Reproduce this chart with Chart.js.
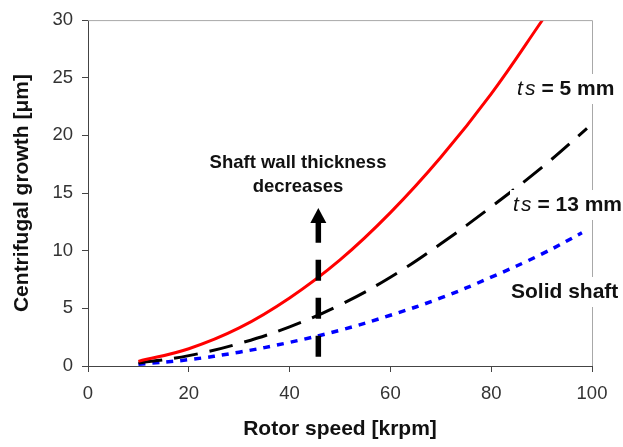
<!DOCTYPE html>
<html>
<head>
<meta charset="utf-8">
<script src="https://cdn.jsdelivr.net/npm/chart.js@4/dist/chart.umd.min.js"></script>
<style>
  html, body { margin: 0; padding: 0; background: #fff; }
  #wrap { width: 623px; height: 447px; position: relative; }
</style>
</head>
<body>
<div id="wrap"><canvas id="c"></canvas></div>
<script>
// ---- data ----
const speedRed   = [10, 20, 30, 40, 50, 60, 70, 80, 90, 91];
const growthTs5  = [0.4, 1.5, 3.3, 5.9, 9.2, 13.3, 18.1, 23.6, 29.9, 30.6];
const speedBlack = [10, 20, 30, 40, 50, 60, 70, 80, 90, 99];
const growthTs13 = [0.25, 0.9, 1.95, 3.4, 5.3, 7.7, 10.6, 13.8, 17.2, 20.6];
const speedBlue  = [10, 20, 30, 40, 50, 60, 70, 80, 90, 98];
const growthSolid= [0.15, 0.55, 1.2, 2.05, 3.1, 4.4, 5.9, 7.7, 9.7, 11.55];
const xTicks = [0, 20, 40, 60, 80, 100];
const yTicks = [0, 5, 10, 15, 20, 25, 30];
const arrowSpeed = 45.7;
const arrowFrom = 0.8;
const arrowTo = 13.7;

const FONT = "'Liberation Sans', Arial, Helvetica, sans-serif";

function pts(xs, ys) { return xs.map((x, i) => ({ x: x, y: ys[i] })); }

const annotPlugin = {
  id: 'annot',
  afterDatasetsDraw(chart) {
    const ctx = chart.ctx;
    const xs = chart.scales.x, ys = chart.scales.y;
    const ca = chart.chartArea;
    ctx.save();
    // top and right frame
    ctx.strokeStyle = '#a8a8a8';
    ctx.lineWidth = 1;
    ctx.beginPath();
    ctx.moveTo(ca.left, ca.top + 0.5);
    ctx.lineTo(ca.right + 0.5, ca.top + 0.5);
    ctx.lineTo(ca.right + 0.5, ca.bottom);
    ctx.stroke();

    // arrow
    const ax = xs.getPixelForValue(arrowSpeed);
    const ay0 = ys.getPixelForValue(arrowFrom);
    const ayTip = ys.getPixelForValue(arrowTo);
    const headLen = 15, headHalf = 8;
    ctx.strokeStyle = '#000';
    ctx.lineWidth = 5.5;
    ctx.setLineDash([21, 17]);
    ctx.beginPath();
    ctx.moveTo(ax, ay0);
    ctx.lineTo(ax, ayTip + headLen);
    ctx.stroke();
    ctx.setLineDash([]);
    ctx.fillStyle = '#000';
    ctx.beginPath();
    ctx.moveTo(ax, ayTip);
    ctx.lineTo(ax - headHalf, ayTip + headLen);
    ctx.lineTo(ax + headHalf, ayTip + headLen);
    ctx.closePath();
    ctx.fill();

    // centered bold text
    ctx.fillStyle = '#111';
    ctx.textAlign = 'center';
    ctx.textBaseline = 'middle';
    ctx.font = 'bold 18.5px ' + FONT;
    ctx.fillText('Shaft wall thickness', 298, 163);
    ctx.fillText('decreases', 298, 186.5);

    // right-side labels with white background
    function label(parts, x, y) {
      let w = 0;
      parts.forEach(p => { ctx.font = p[1] + FONT; w += ctx.measureText(p[0]).width; });
      ctx.fillStyle = '#fff';
      ctx.fillRect(x - 3, y - 15, w + 6, 30);
      ctx.fillStyle = '#111';
      ctx.textAlign = 'left';
      let cx = x;
      parts.forEach(p => {
        ctx.font = p[1] + FONT;
        ctx.fillText(p[0], cx, y);
        cx += ctx.measureText(p[0]).width;
      });
    }
    label([['t', 'italic 21px '], [' ', 'bold 8px '], ['s', 'italic 21px '], [' = 5 mm', 'bold 21px ']], 517, 89);
    label([['t', 'italic 21px '], [' ', 'bold 8px '], ['s', 'italic 21px '], [' = 13 mm', 'bold 21px ']], 513, 205);
    label([['Solid shaft', 'bold 21px ']], 511, 292);
    ctx.restore();
  }
};

new Chart(document.getElementById('c'), {
  type: 'line',
  data: {
    datasets: [
      { data: pts(speedRed, growthTs5), borderColor: '#ff0000', borderWidth: 3, pointRadius: 0, tension: 0.4, fill: false },
      { data: pts(speedBlack, growthTs13), borderColor: '#000000', borderWidth: 3, borderDash: [24, 12], pointRadius: 0, tension: 0.4, fill: false },
      { data: pts(speedBlue, growthSolid), borderColor: '#0000ff', borderWidth: 3.5, borderDash: [7, 7], pointRadius: 0, tension: 0.4, fill: false }
    ]
  },
  options: {
    responsive: true,
    maintainAspectRatio: false,
    animation: false,
    layout: { padding: { top: 17, right: 31, left: 0, bottom: 0 } },
    plugins: { legend: { display: false }, tooltip: { enabled: false } },
    scales: {
      x: {
        type: 'linear', min: 0, max: 100,
        afterBuildTicks: s => { s.ticks = xTicks.map(v => ({ value: v })); },
        afterFit: s => { s.height = 81; },
        grid: { drawOnChartArea: false, drawTicks: true, tickLength: 6, color: '#444' },
        border: { display: true, color: '#444', width: 1 },
        ticks: { color: '#333', font: { family: FONT, size: 18.5 }, padding: 11, maxRotation: 0 },
        title: { display: true, text: 'Rotor speed [krpm]', color: '#111', font: { family: FONT, size: 21, weight: 'bold' }, padding: { top: 5, bottom: 5 } }
      },
      y: {
        type: 'linear', min: 0, max: 30,
        afterBuildTicks: s => { s.ticks = yTicks.map(v => ({ value: v })); },
        afterFit: s => { s.width = 88; },
        grid: { drawOnChartArea: false, drawTicks: true, tickLength: 6, color: '#444' },
        border: { display: true, color: '#444', width: 1 },
        ticks: { color: '#333', font: { family: FONT, size: 18.5 }, padding: 9 },
        title: { display: true, text: 'Centrifugal growth [μm]', color: '#111', font: { family: FONT, size: 21, weight: 'bold' }, padding: { top: 10, bottom: 10 } }
      }
    }
  },
  plugins: [annotPlugin]
});
</script>
</body>
</html>
